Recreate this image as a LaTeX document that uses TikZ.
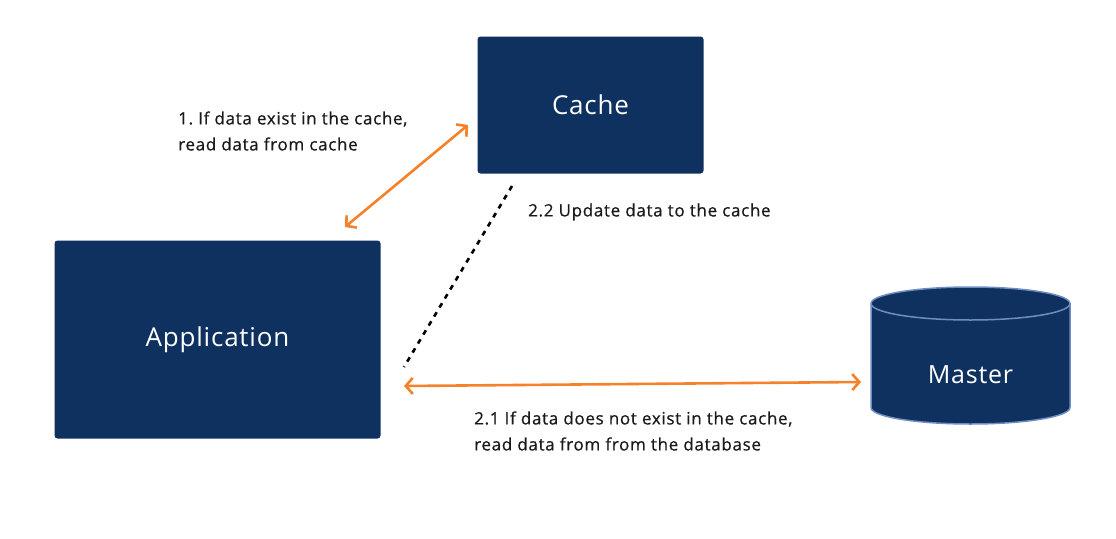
\documentclass[tikz,border=0pt]{standalone}
\usepackage{fontspec}
\setmainfont{Open Sans}
\newfontfamily\lblfont[LetterSpace=4,FakeBold=0.6]{Open Sans}
\newfontfamily\boxfont[LetterSpace=3]{Open Sans}
\usetikzlibrary{arrows.meta}
\definecolor{navy}{HTML}{0F3160}
\definecolor{cylline}{HTML}{6F8DC2}
\definecolor{arrorange}{HTML}{F5822A}
\definecolor{labeltext}{HTML}{1A1A1A}
\frenchspacing
\begin{document}
\begin{tikzpicture}[x=1pt,y=-1pt,
  box/.style={fill=navy, rounded corners=3pt, text=white, font=\boxfont\fontsize{26}{28}\selectfont, inner sep=0pt},
  lbl/.style={text=labeltext, font=\lblfont\fontsize{17}{26}\selectfont, align=left, inner sep=0pt, anchor=west},
  flow/.style={draw=arrorange, line width=2.6pt, {Straight Barb[length=7pt,width=16pt]}-{Straight Barb[length=7pt,width=16pt]}},
  upd/.style={draw=black, line width=2.6pt, dash pattern=on 5pt off 5.5pt}
]
\useasboundingbox (0,0) rectangle (1116,538);
\fill[white] (0,0) rectangle (1116,538);

\node[box, minimum width=226pt, minimum height=137pt] (cache) at (590.5,105) {Cache};
\node[box, minimum width=326pt, minimum height=198pt] (app) at (217.5,339.5) {Application};

% cylinder
\coordinate (master) at (970.5,355);
\fill[navy, draw=cylline, line width=1.5pt]
  (871,303.5) -- (871,407.5) arc[start angle=180, end angle=360, x radius=99.5, y radius=-16.5]
  -- (1070,303.5) arc[start angle=0, end angle=180, x radius=99.5, y radius=-16.5] -- cycle;
\draw[cylline, line width=1.5pt] (871,303.5) arc[start angle=180, end angle=360, x radius=99.5, y radius=-16.5];
\node[text=white, font=\boxfont\fontsize{25}{28}\selectfont, inner sep=0pt] (mastertxt) at (970.5,375) {Master};

\coordinate (a1s) at (345,227);
\coordinate (a1e) at (468,125);
\coordinate (a2s) at (404,386);
\coordinate (a2e) at (861,382);
\coordinate (d1) at (512,186);
\coordinate (d2) at (404,367);

\draw[flow] (a1s) -- (a1e);
\draw[flow] (a2s) -- (a2e);
\draw[upd] (d1) -- (d2);

\node[lbl] (l1) at (178,131) {1. If data exist in the cache,\\read data from cache};
\node[lbl] (l22) at (528,212) {2.2 Update data to the cache};
\node[lbl] (l21) at (474,431) {2.1 If data does not exist in the cache,\\read data from from the database};
\end{tikzpicture}
\end{document}
